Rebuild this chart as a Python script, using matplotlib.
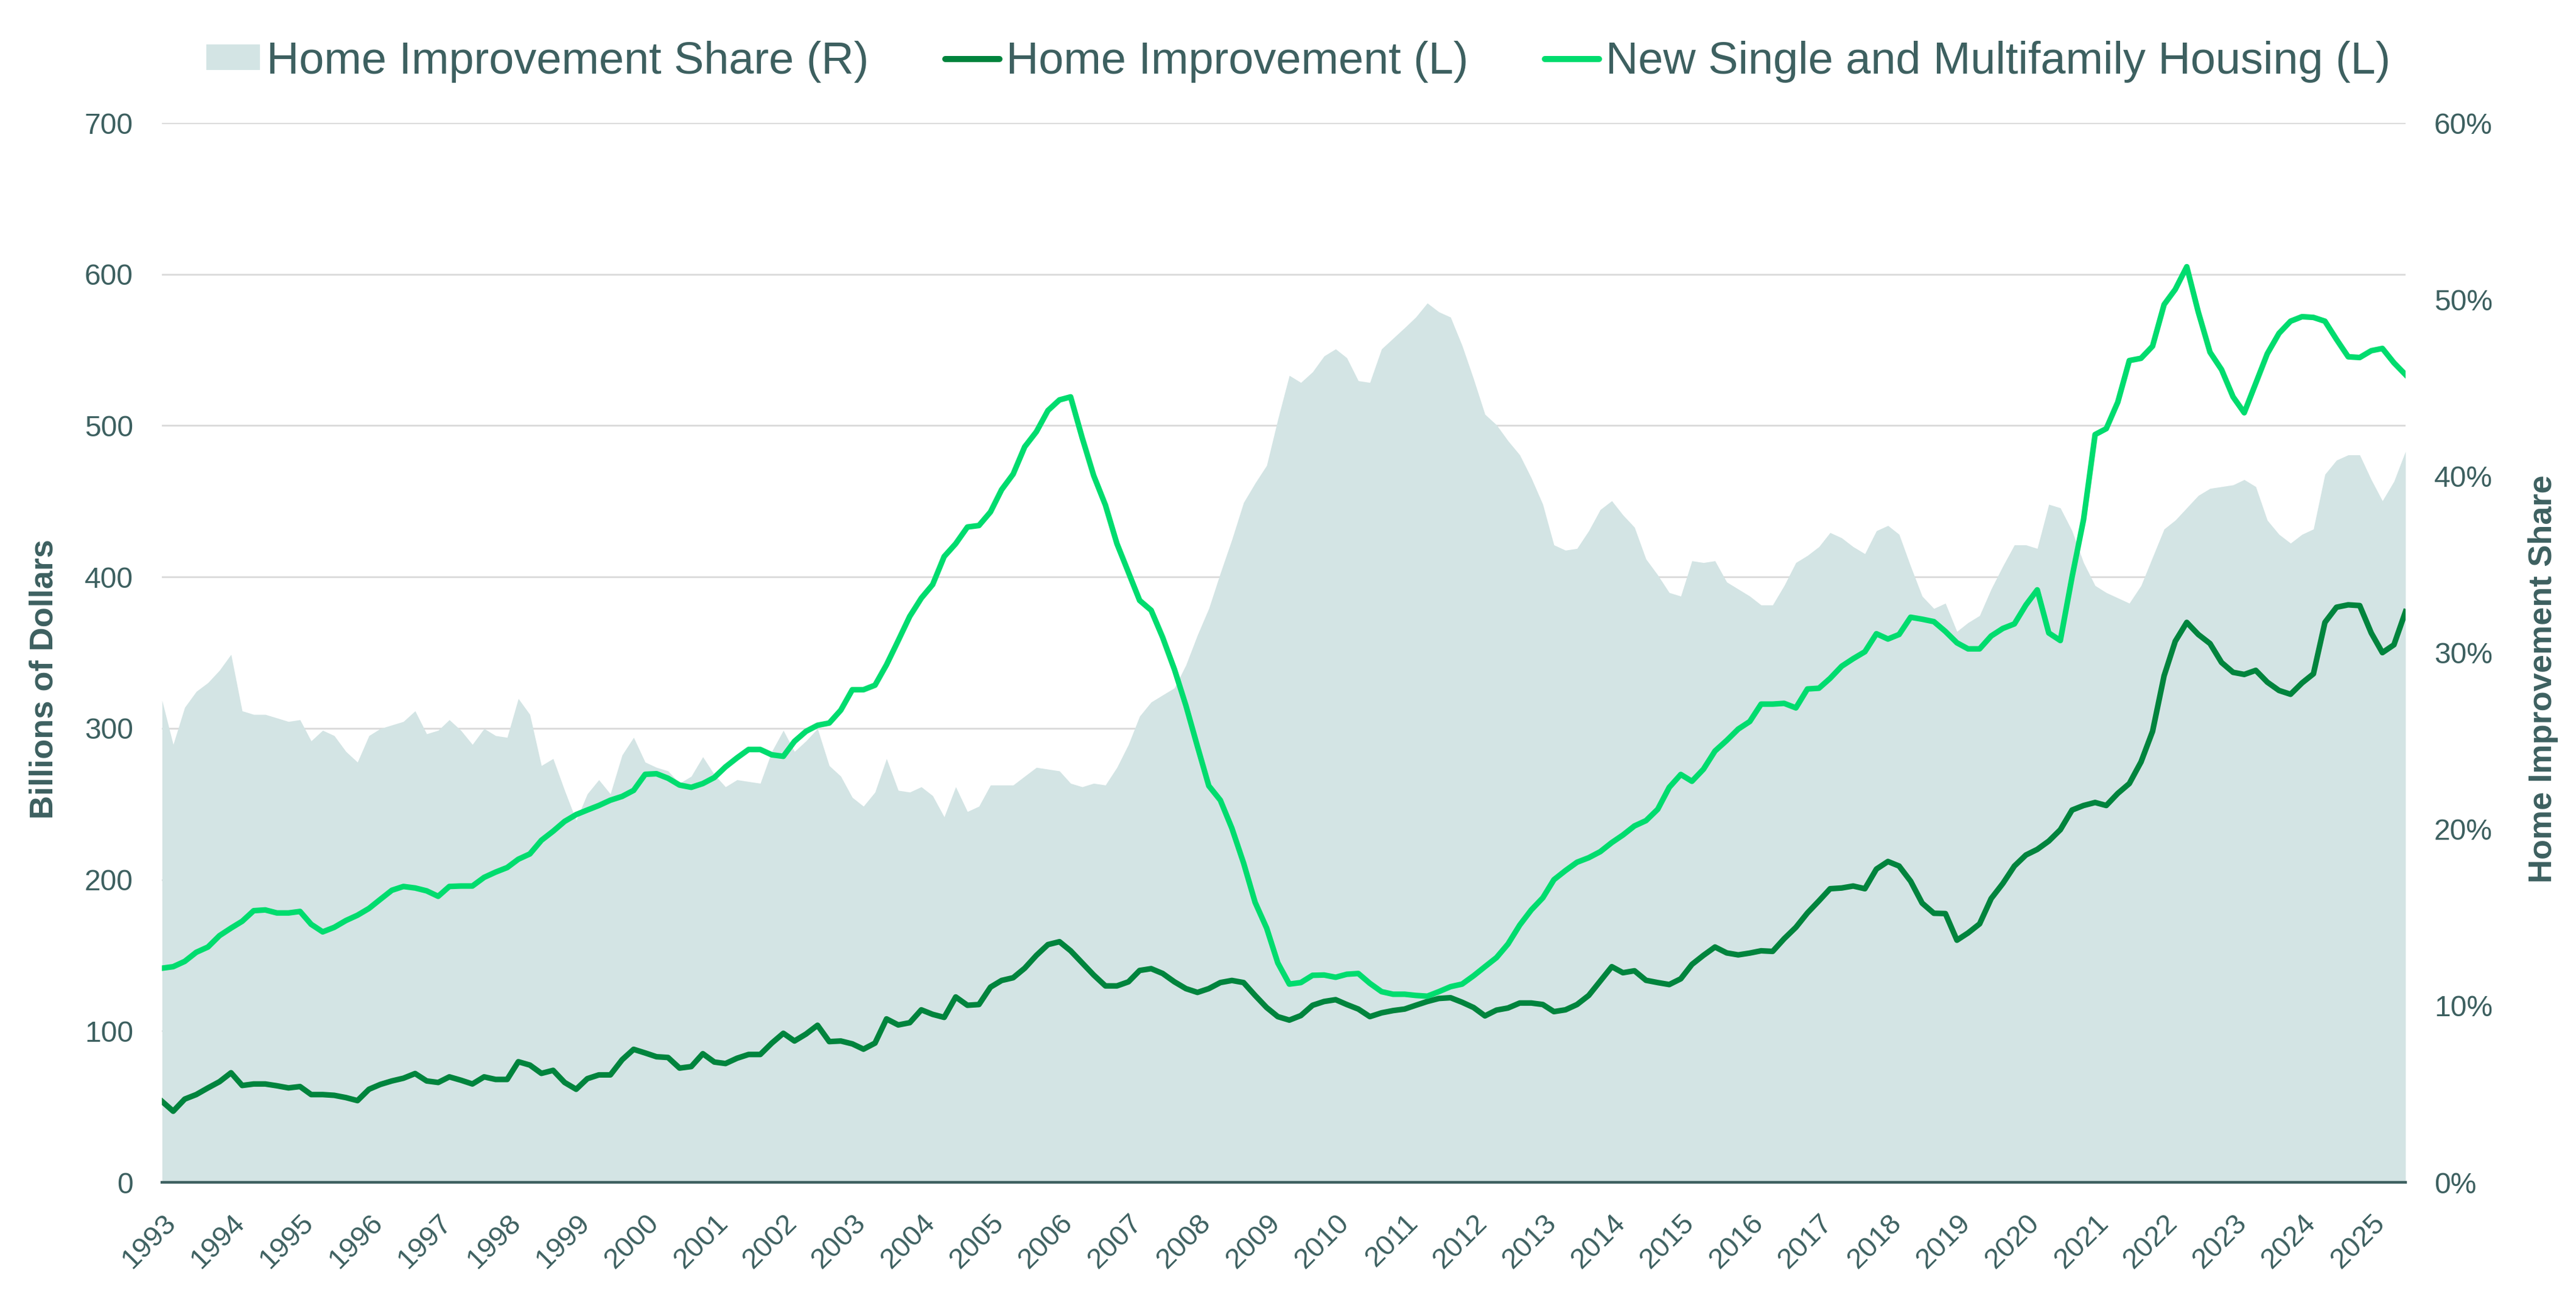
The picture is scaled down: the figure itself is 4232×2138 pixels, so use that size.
import pandas as pd
import matplotlib
matplotlib.use("Agg")
import matplotlib.pyplot as plt
from matplotlib.lines import Line2D
from matplotlib.patches import Patch
from matplotlib.ticker import PercentFormatter

plt.rcParams["font.family"] = ["Liberation Sans", "DejaVu Sans"]

# bimonthly readings, Jan 1993 - Jul 2025
dates = pd.date_range("1993-01-01", "2025-07-01", freq="2MS")

# Home Improvement Share (%), right axis
share = [
    27.3, 24.8, 26.9, 27.8, 28.3, 29.0, 29.9, 26.7, 26.5, 26.5, 26.3, 26.1,
    26.2, 25.0, 25.6, 25.3, 24.4, 23.8, 25.3, 25.7, 25.9, 26.1, 26.7, 25.4,
    25.6, 26.2, 25.6, 24.8, 25.7, 25.3, 25.2, 27.4, 26.5, 23.6, 24.0, 22.2,
    20.5, 22.0, 22.8, 22.0, 24.2, 25.2, 23.8, 23.5, 23.3, 22.6, 23.0, 24.1,
    23.1, 22.4, 22.8, 22.7, 22.6, 24.4, 25.6, 24.4, 25.0, 25.7, 23.6, 23.0,
    21.8, 21.3, 22.1, 24.0, 22.2, 22.1, 22.4, 21.9, 20.7, 22.4, 21.0,
    21.3, 22.5, 22.5, 22.5, 23.0, 23.5, 23.4, 23.3, 22.6, 22.4, 22.6, 22.5,
    23.5, 24.8, 26.4, 27.2, 27.6, 28.0, 29.3, 31.0, 32.5, 34.5, 36.4, 38.5,
    39.6, 40.6, 43.2, 45.7, 45.3, 45.9, 46.8, 47.2, 46.7, 45.4, 45.3,
    47.2,
    47.8, 48.4, 49.0, 49.8, 49.3, 49.0, 47.4, 45.5, 43.5, 42.9, 42.0, 41.2,
    39.9, 38.4, 36.1, 35.8, 35.9, 36.9, 38.1, 38.6, 37.8, 37.1, 35.3, 34.4,
    33.4, 33.2, 35.2, 35.1, 35.2, 34.0, 33.6, 33.2, 32.7, 32.7,
    33.8, 35.1, 35.5, 36.0, 36.8, 36.5, 36.0, 35.6, 36.9, 37.2, 36.7, 34.9,
    33.2, 32.5, 32.8, 31.2, 31.7, 32.1, 33.6, 34.9, 36.1, 36.1, 35.9, 38.4,
    38.2, 36.9, 35.1, 33.8, 33.4, 33.1, 32.8, 33.8, 35.4, 37.0,
    37.5, 38.2, 38.9, 39.3, 39.4, 39.5, 39.8, 39.4, 37.5, 36.7, 36.2, 36.7,
    37.0, 40.1, 40.9, 41.2, 41.2, 39.8, 38.6, 39.7, 41.4,
]

# Home Improvement, billions of dollars, left axis
home_improvement = [
    53.5, 47, 55, 58, 62.4, 66.5, 72.4, 64, 65, 65, 63.8, 62.4,
    63.3, 58, 58, 57.5, 56, 54, 61.5, 64.7, 67, 68.8, 71.9, 67,
    66, 69.7, 67.5, 65, 69.7, 68, 68, 79.7, 77.5, 72, 74, 66,
    61.5, 68.5, 71, 71, 81, 87.9, 85.5, 83, 82.5, 75.5, 76.5, 85,
    79.5, 78.5, 82, 84.5, 84.5, 92, 98.5, 93.4, 98, 103.8, 93, 93.4,
    91.5, 88, 92, 108, 104, 105.5, 114, 111, 109, 122.5, 117,
    117.5, 129, 133.4, 135.2, 141.5, 150, 157.1, 159, 153, 145, 137, 129.8,
    129.8, 132.5, 140, 141.2, 138, 132.5, 128, 125.5, 128, 132, 133.4, 132,
    123.5, 115.5, 109.5, 107.2, 110.2, 117, 119.5, 120.7, 117.5, 114.5, 109.5,
    112,
    113.5, 114.5, 117, 119.5, 121.5, 122, 119, 115.5, 110, 113.8, 115.2, 118.5,
    118.5, 117.5, 112.8, 114, 117.5, 123.5, 133, 142.5, 138.5, 139.8, 133.5, 132,
    130.7, 134.5, 144, 150, 155.5, 151.6, 150.3, 151.5, 153, 152.6,
    161, 168.5, 178, 186, 194, 194.5, 195.8, 194, 207, 212, 209, 199,
    184.5, 177.8, 177.6, 160, 164.8, 170.8, 187.5, 197.5, 209, 216.3, 220, 225.5,
    233, 246, 249, 251, 249, 257, 263.5, 277.8, 298, 334.7,
    357.5, 370, 362, 356, 343.5, 337, 335.6, 338.3, 330.5, 325, 322.5, 330,
    336, 370, 380, 381.6, 381.1, 363, 350, 355.2, 377,
]

# New Single and Multifamily Housing, billions of dollars, left axis
new_housing = [
    141.5, 142.5, 146, 152, 155.5, 163, 168, 172.5, 179.5, 180, 178, 178,
    179, 170.5, 165.5, 168.5, 173, 176.5, 181, 187, 193, 195.5, 194.5, 192.6,
    189, 195.5, 195.8, 195.8, 201.5, 205, 208, 213.5, 217, 226, 232, 238.5,
    243, 246, 249, 252.5, 255, 259, 269.6, 270, 267, 262.5, 261, 263.5,
    267.5, 274.5, 280.5, 286, 286, 282.5, 281.5, 291.4, 298, 302, 303.5, 312,
    325.5, 325.5, 328.5, 342, 358, 374, 386, 395, 413.5, 422, 433,
    434, 443, 457.7, 468, 486, 496, 510, 517, 519, 492, 467, 447.5,
    422, 403, 384.5, 378, 360, 339, 315, 288, 262, 252.5, 234, 211,
    185, 168, 145, 131, 132, 136.8, 137, 135.5, 137.5, 138, 131.5,
    126,
    124.3, 124.3, 123.5, 123, 126, 129.3, 131, 136.5, 142.5, 148.5, 157.5, 170,
    180, 188, 200, 206, 211.5, 214.5, 218.5, 224.5, 229.5, 235.5, 239, 246.5,
    261, 269.5, 265, 273, 285, 292, 299.5, 304.5, 316, 316,
    316.5, 313.5, 326, 326.5, 333, 341, 346, 350.6, 362.5, 359, 362, 373.4,
    372.1, 370.5, 364, 356.5, 352.5, 352.5, 361, 366, 369, 381.5, 391.5, 363,
    358, 400, 438, 494.1, 498, 515.5, 543, 544.5, 552.5, 580,
    590, 605, 575, 548.5, 537, 519, 508.5, 528, 547.5, 561, 569, 572,
    571.5, 569, 557, 545.5, 545, 549.5, 551, 541.5, 533.7,
]

years = list(range(1993, 2026))
left_ticks = list(range(0, 701, 100))
right_ticks = list(range(0, 61, 10))

text_color = "#3d6060"
area_color = "#d3e4e4"
dark_green = "#00843d"
light_green = "#00dc6e"

fig = plt.figure(figsize=(21.16, 10.69), dpi=200)
ax = fig.add_axes([0.0629, 0.0912, 0.8709, 0.8143])
ax2 = ax.twinx()

# left axis: grid + labels (drawn underneath)
ax.set_ylim(0, 700)
ax.set_yticks(left_ticks)
ax.grid(axis="y", color="#d9d9d9", linewidth=1.0)
ax.set_axisbelow(True)

# right axis: share area, with the lines on top using left-axis coordinates
ax2.fill_between(dates, share, 0, color=area_color, linewidth=0, zorder=1)
ax2.plot(dates, home_improvement, color=dark_green, linewidth=3.3,
         transform=ax.transData, zorder=3, solid_joinstyle="round")
ax2.plot(dates, new_housing, color=light_green, linewidth=3.3,
         transform=ax.transData, zorder=3, solid_joinstyle="round")
ax2.set_ylim(0, 60)
ax2.set_yticks(right_ticks)
ax2.yaxis.set_major_formatter(PercentFormatter(decimals=0))

ax.set_xlim(dates[0], dates[-1])
ax.set_xticks([pd.Timestamp(f"{y}-01-01") for y in years])
ax.set_xticklabels([str(y) for y in years], rotation=45, ha="right",
                   va="top", rotation_mode="anchor")

ax.tick_params(axis="y", length=0, pad=17, labelsize=17.3, labelcolor=text_color)
ax.tick_params(axis="x", length=0, pad=16, labelsize=17, labelcolor=text_color)
ax2.tick_params(axis="y", length=0, pad=17, labelsize=17.3, labelcolor=text_color)

for s in ax.spines.values():
    s.set_visible(False)
for side in ["top", "left", "right"]:
    ax2.spines[side].set_visible(False)
ax2.spines["bottom"].set_color(text_color)
ax2.spines["bottom"].set_linewidth(1.6)

ax.set_ylabel("Billions of Dollars", fontsize=19.5, fontweight="bold",
              color=text_color)
ax.yaxis.set_label_coords(-0.0458, 0.475)
ax2.set_ylabel("Home Improvement Share", fontsize=19.5, fontweight="bold",
               color=text_color, rotation=90)
ax2.yaxis.set_label_coords(1.0546, 0.475)

handles = [
    Patch(facecolor=area_color, edgecolor="none"),
    Line2D([], [], color=dark_green, linewidth=3.6, solid_capstyle="round"),
    Line2D([], [], color=light_green, linewidth=3.6, solid_capstyle="round"),
]
labels = ["Home Improvement Share (R)", "Home Improvement (L)",
          "New Single and Multifamily Housing (L)"]
fig.legend(handles, labels, loc="center", bbox_to_anchor=(0.504, 0.9527),
           ncol=3, frameon=False, fontsize=26.6, handlelength=1.2,
           handleheight=0.5, handletextpad=0.15, columnspacing=1.7,
           labelcolor=text_color)

fig.savefig("out.png", dpi=200)
